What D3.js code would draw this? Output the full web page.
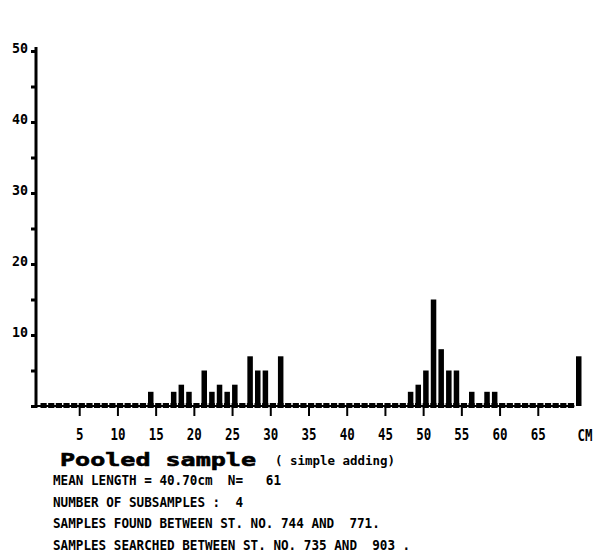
<html>
<head>
<meta charset="utf-8">
<title>Pooled sample</title>
<style>
  body { margin: 0; background: #fff; }
  text { font-family: "DejaVu Sans Mono", monospace; font-weight: bold; fill: #000; white-space: pre; }
</style>
</head>
<body>
<script src="https://cdn.jsdelivr.net/npm/d3@7/dist/d3.min.js"></script>
<script>

// length classes (cm) with a non-zero count, and their counts
var lengths = [14, 17, 18, 19, 21, 22, 23, 24, 25, 27, 28, 29, 31,
               48, 49, 50, 51, 52, 53, 54, 56, 58, 59, 70];
var counts  = [2, 2, 3, 2, 5, 2, 3, 2, 3, 7, 5, 5, 7,
               2, 3, 5, 15, 8, 5, 5, 2, 2, 2, 7];

// axis ticks
var xTicks = [5, 10, 15, 20, 25, 30, 35, 40, 45, 50, 55, 60, 65];
var yTicks = [0, 5, 10, 15, 20, 25, 30, 35, 40, 45, 50];
var yLabels = [10, 20, 30, 40, 50];

// text block under the chart
var infoLines = [
  "MEAN LENGTH = 40.70cm  N=   61",
  "NUMBER OF SUBSAMPLES :  4",
  "SAMPLES FOUND BETWEEN ST. NO. 744 AND  771.",
  "SAMPLES SEARCHED BETWEEN ST. NO. 735 AND  903 ."
];

var width = 599, height = 555;

var svg = d3.select("body").append("svg")
    .attr("width", width)
    .attr("height", height);

var x = d3.scaleLinear().domain([0, 70]).range([41, 576]);
var y = d3.scaleLinear().domain([0, 50]).range([406, 51]);

var barW = 5.5;

// dotted baseline: one small block per cm class
svg.append("g").selectAll("rect")
    .data(d3.range(0, 70))
    .enter().append("rect")
    .attr("x", function(d){ return x(d) - 0.5; })
    .attr("y", 403)
    .attr("width", 6.2)
    .attr("height", 5)
    .attr("fill", "#000");

svg.append("line")
    .attr("x1", 33).attr("x2", x(69) + 6)
    .attr("y1", 406).attr("y2", 406)
    .attr("stroke", "#000").attr("stroke-width", 2);

// bars
svg.append("g").selectAll("rect")
    .data(lengths)
    .enter().append("rect")
    .attr("x", function(d){ return x(d); })
    .attr("y", function(d, i){ return y(counts[i]); })
    .attr("width", barW)
    .attr("height", function(d, i){ return y(0) - y(counts[i]); })
    .attr("fill", "#000");

// y axis
var yAxis = d3.axisLeft(y)
    .tickValues(yTicks)
    .tickSize(5)
    .tickSizeOuter(0)
    .tickPadding(3)
    .tickFormat(function(d){ return yLabels.indexOf(d) >= 0 ? d : ""; });

var gy = svg.append("g")
    .attr("transform", "translate(36,0)")
    .call(yAxis);
gy.select(".domain").attr("stroke-width", 3).attr("d", "M0," + (y(50) - 4) + "V" + (y(0) + 2));
gy.selectAll(".tick line").attr("stroke-width", 3);
gy.selectAll(".tick text")
    .attr("font-size", 14)
    .attr("font-family", "DejaVu Sans Mono")
    .attr("font-weight", "normal")
    .attr("textLength", function(d){ return yLabels.indexOf(d) >= 0 ? 16 : null; })
    .attr("lengthAdjust", "spacingAndGlyphs")
    .attr("dy", "0.1em");

// x axis
var xAxis = d3.axisBottom(x)
    .tickValues(xTicks)
    .tickSize(10)
    .tickSizeOuter(0)
    .tickPadding(13);

var gx = svg.append("g")
    .attr("transform", "translate(0,406)")
    .call(xAxis);
gx.select(".domain").remove();
gx.selectAll(".tick line").attr("stroke-width", 2);
gx.selectAll(".tick text")
    .attr("font-size", 15)
    .attr("font-family", "DejaVu Sans Mono")
    .attr("textLength", function(d){ return String(d).length * 7.5; })
    .attr("lengthAdjust", "spacingAndGlyphs");

svg.append("text")
    .attr("x", 585).attr("y", 441)
    .attr("text-anchor", "middle")
    .attr("font-size", 15)
    .attr("textLength", 15)
    .attr("lengthAdjust", "spacingAndGlyphs")
    .text("CM");

// title
svg.append("text")
    .attr("x", 60).attr("y", 466)
    .attr("font-family", "DejaVu Sans")
    .attr("font-size", 18)
    .attr("stroke", "#000")
    .attr("stroke-width", 0.6)
    .attr("textLength", 196)
    .attr("lengthAdjust", "spacingAndGlyphs")
    .text("Pooled sample");

svg.append("text")
    .attr("x", 275).attr("y", 465)
    .attr("font-size", 12)
    .attr("font-weight", "normal")
    .attr("textLength", 120)
    .attr("lengthAdjust", "spacingAndGlyphs")
    .text("( simple adding)");

// info lines
svg.append("g").selectAll("text")
    .data(infoLines)
    .enter().append("text")
    .attr("x", 53)
    .attr("y", function(d, i){ return 485 + i * 21.5; })
    .attr("font-size", 14)
    .attr("textLength", function(d){ return d.length * 7.6; })
    .attr("lengthAdjust", "spacingAndGlyphs")
    .text(function(d){ return d; });

</script>
</body>
</html>
